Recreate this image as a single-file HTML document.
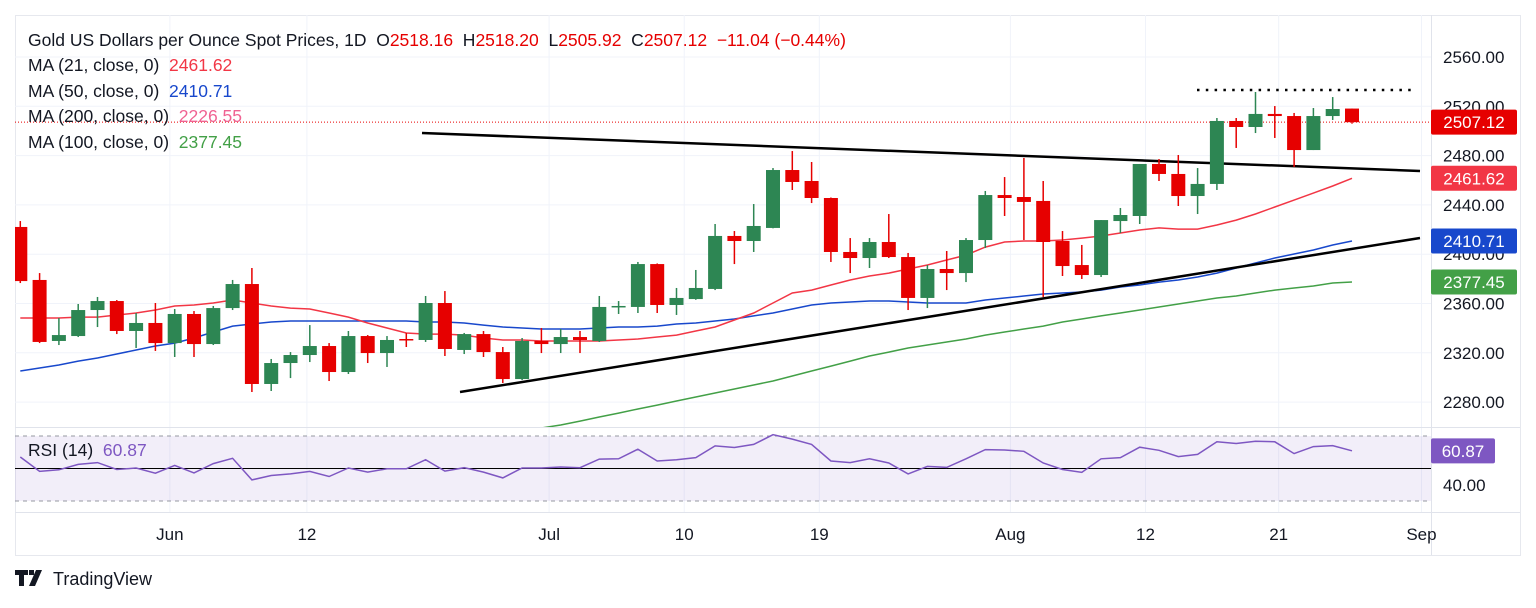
<!DOCTYPE html>
<html><head><meta charset="utf-8">
<style>
html,body{margin:0;padding:0;background:#fff;}
body{width:1536px;height:603px;overflow:hidden;font-family:"Liberation Sans",sans-serif;}
svg text{font-family:"Liberation Sans",sans-serif;}
</style></head>
<body>
<svg id="chart" width="1536" height="603" viewBox="0 0 1536 603" xmlns="http://www.w3.org/2000/svg">
<rect x="0" y="0" width="1536" height="603" fill="#fff"/>
<rect x="15.5" y="15.5" width="1505" height="540" fill="none" stroke="#e6e8ee"/>
<g id="grid"></g>
<rect x="15" y="436" width="1416" height="65" fill="#7e57c2" fill-opacity="0.1"/>
<g id="plot"></g>
<g id="axes"></g>
<g font-size="17.5" fill="#131722">
<text x="28" y="46">Gold US Dollars per Ounce Spot Prices, 1D&#160;&#160;O<tspan fill="#e60000">2518.16</tspan>&#160;&#160;H<tspan fill="#e60000">2518.20</tspan>&#160;&#160;L<tspan fill="#e60000">2505.92</tspan>&#160;&#160;C<tspan fill="#e60000">2507.12</tspan>&#160;&#160;<tspan fill="#e60000">−11.04 (−0.44%)</tspan></text>
<text x="28" y="71">MA (21, close, 0)&#160;&#160;<tspan fill="#f23645">2461.62</tspan></text>
<text x="28" y="97">MA (50, close, 0)&#160;&#160;<tspan fill="#1848cc">2410.71</tspan></text>
<text x="28" y="122">MA (200, close, 0)&#160;&#160;<tspan fill="#f06292">2226.55</tspan></text>
<text x="28" y="148">MA (100, close, 0)&#160;&#160;<tspan fill="#43a047">2377.45</tspan></text>
<text x="28" y="456">RSI (14)&#160;&#160;<tspan fill="#7e57c2">60.87</tspan></text>
</g>
<g>
<path d="M15 570h13v5h-4v11h-5v-11h-4z M29 570h5v5h-5z M36 570h6l-7 16h-6z" fill="#131722"/>
<text x="53" y="585" font-size="18" fill="#131722">TradingView</text>
</g>
</svg>
<script>
const categories = ["May27","May28","May29","May30","May31","Jun3","Jun4","Jun5","Jun6","Jun7","Jun10","Jun11","Jun12","Jun13","Jun14","Jun17","Jun18","Jun19","Jun20","Jun21","Jun24","Jun25","Jun26","Jun27","Jun28","Jul1","Jul2","Jul3","Jul4","Jul5","Jul8","Jul9","Jul10","Jul11","Jul12","Jul15","Jul16","Jul17","Jul18","Jul19","Jul22","Jul23","Jul24","Jul25","Jul26","Jul29","Jul30","Jul31","Aug1","Aug2","Aug5","Aug6","Aug7","Aug8","Aug9","Aug12","Aug13","Aug14","Aug15","Aug16","Aug19","Aug20","Aug21","Aug22","Aug23","Aug26","Aug27","Aug28","Aug29","Aug30"];
const opens = [2422.1,2379.1,2329.6,2333.6,2354.7,2362.0,2337.7,2344.2,2327.9,2351.5,2327.1,2356.3,2375.8,2294.7,2311.7,2318.2,2325.5,2304.4,2333.6,2319.8,2331.2,2330.4,2360.4,2322.3,2335.2,2320.6,2298.7,2329.6,2327.1,2332.8,2329.6,2357.2,2357.2,2392.0,2358.8,2363.6,2371.8,2414.8,2410.7,2421.3,2468.3,2459.4,2445.6,2401.8,2396.9,2409.9,2397.7,2364.5,2388.0,2384.7,2411.5,2448.0,2446.4,2443.2,2410.7,2391.2,2383.1,2426.9,2431.0,2473.2,2465.1,2447.2,2457.0,2508.1,2503.2,2513.8,2512.1,2484.5,2512.1,2518.16];
const highs = [2426.9,2384.7,2348.2,2359.6,2365.3,2362.8,2352.3,2360.4,2355.5,2353.9,2358.0,2379.1,2388.8,2315.0,2320.6,2342.5,2327.9,2337.7,2334.4,2333.6,2336.1,2366.1,2370.1,2336.1,2337.7,2324.7,2332.0,2340.1,2339.3,2337.7,2366.1,2362.0,2393.7,2392.5,2372.6,2387.2,2424.5,2418.8,2440.7,2469.9,2483.7,2474.8,2446.0,2413.1,2413.1,2432.6,2401.0,2391.2,2402.6,2413.1,2451.3,2462.6,2478.1,2459.4,2418.8,2407.5,2427.7,2437.5,2473.2,2477.2,2480.5,2469.9,2510.5,2510.5,2531.6,2520.2,2514.6,2518.6,2527.5,2518.20];
const lows = [2376.6,2327.9,2326.3,2332.8,2340.9,2335.2,2323.9,2321.5,2316.6,2316.6,2326.3,2354.7,2288.2,2289.0,2299.5,2312.5,2297.1,2302.8,2311.7,2308.5,2324.7,2328.8,2317.4,2319.0,2316.6,2295.5,2297.9,2319.8,2319.8,2319.8,2328.8,2351.5,2352.3,2352.3,2350.7,2363.0,2370.9,2392.0,2401.8,2421.0,2452.1,2441.5,2393.7,2384.7,2388.8,2396.9,2354.7,2356.3,2370.9,2377.4,2405.0,2431.0,2411.5,2365.3,2382.3,2379.9,2381.5,2417.2,2424.5,2459.4,2439.1,2432.6,2452.1,2486.2,2498.3,2494.3,2470.8,2484.5,2508.9,2505.92];
const closes = [2378.2,2328.8,2334.4,2354.7,2362.0,2337.7,2344.2,2327.9,2351.5,2327.1,2356.3,2375.8,2294.7,2311.7,2318.2,2325.5,2304.4,2333.6,2319.8,2330.4,2331.0,2360.4,2323.1,2335.2,2320.6,2298.7,2329.6,2327.1,2332.8,2330.4,2357.2,2358.0,2392.0,2358.8,2364.5,2372.6,2414.8,2410.7,2422.9,2468.3,2458.6,2445.6,2401.8,2396.9,2409.9,2397.7,2364.5,2388.0,2384.7,2411.5,2448.0,2445.6,2442.4,2409.9,2390.4,2383.1,2427.7,2431.8,2473.2,2465.1,2447.2,2457.0,2508.1,2503.2,2513.8,2512.1,2484.5,2512.1,2517.8,2507.12];
const ma21 = [2348.2,2348.2,2348.2,2349.0,2349.0,2350.7,2352.3,2354.7,2358.0,2358.8,2360.4,2362.8,2360.4,2358.0,2356.3,2355.5,2352.3,2349.0,2344.2,2340.1,2336.1,2335.2,2335.2,2334.4,2332.0,2330.4,2330.4,2329.6,2329.6,2329.6,2329.6,2330.4,2331.2,2332.8,2334.4,2337.7,2340.9,2346.6,2352.3,2360.4,2368.5,2370.9,2375.0,2379.1,2382.3,2384.7,2388.0,2391.2,2395.3,2399.3,2405.8,2409.9,2410.7,2410.7,2411.5,2413.1,2414.8,2417.2,2419.6,2421.3,2420.4,2420.4,2423.7,2427.7,2432.6,2438.3,2443.9,2449.6,2455.3,2461.62];
const ma50 = [2305.2,2307.7,2310.1,2313.3,2315.8,2319.0,2322.3,2325.5,2327.9,2332.0,2336.9,2341.7,2343.4,2345.0,2345.8,2345.8,2345.8,2345.8,2345.8,2345.8,2345.8,2345.0,2345.0,2344.2,2342.5,2340.9,2340.1,2339.3,2339.3,2339.3,2340.1,2340.9,2340.9,2341.7,2343.4,2344.2,2345.8,2347.4,2349.9,2352.3,2355.5,2358.8,2360.4,2361.2,2362.0,2362.0,2361.2,2360.4,2360.4,2360.4,2362.8,2364.5,2366.1,2367.7,2368.5,2369.3,2370.9,2373.4,2375.0,2377.4,2379.1,2381.5,2384.7,2388.8,2392.9,2396.9,2400.2,2403.4,2407.5,2410.71];
const ma100Start = 24;
const ma100 = [2249.2,2252.5,2255.7,2259.0,2261.4,2264.6,2267.9,2271.1,2274.4,2277.6,2280.9,2284.1,2287.4,2290.6,2293.9,2297.1,2301.2,2305.2,2309.2,2313.3,2317.4,2320.6,2323.9,2326.3,2328.8,2331.2,2334.4,2336.9,2339.3,2341.7,2345.0,2347.4,2349.9,2352.3,2354.7,2357.2,2359.6,2362.0,2364.5,2366.1,2368.5,2370.9,2372.6,2374.2,2376.6,2377.45];
const rsi = [57.1,48.2,49.2,52.5,53.6,49.4,50.3,47.1,51.9,47.3,53.0,56.3,43.0,45.7,46.7,48.2,45.1,50.3,47.8,49.8,49.8,55.4,48.4,50.5,47.8,44.2,50.3,50.3,50.9,50.5,55.8,56.0,61.9,54.6,55.4,56.7,63.9,62.9,64.8,70.8,68.1,64.8,54.6,53.6,56.0,53.4,46.7,51.3,50.7,56.0,61.6,61.4,60.6,53.4,49.4,47.6,56.0,56.7,63.1,61.2,57.3,58.7,66.4,65.4,66.8,66.4,59.2,63.5,64.1,60.87];
const priceTicks = [2560,2520,2480,2440,2400,2360,2320,2280];
const timeTickLabels = ["Jun","12","Jul","10","19","Aug","12","21","Sep"];
const timeTickBars = [7.75,14.85,27.4,34.4,41.4,51.3,58.3,65.2,72.6];
const rsiTicks = [40];

const NS="http://www.w3.org/2000/svg";
const X0=20.3, DX=19.3, PLOT_R=1431, TOP=15, BOT=427;
const xOf = i => X0 + i*DX;
const yOf = p => 57 + (2560-p)*1.2325;
const yR = r => 468.5 - (r-50)*1.625;
function mk(tag, attrs, parent){const e=document.createElementNS(NS,tag);for(const k in attrs)e.setAttribute(k,attrs[k]);parent.appendChild(e);return e;}
const grid=document.getElementById('grid'), plot=document.getElementById('plot'), axes=document.getElementById('axes');

const defs=mk('defs',{},document.getElementById('chart'));
const cp=mk('clipPath',{id:'mainclip'},defs); mk('rect',{x:15,y:TOP,width:PLOT_R-15,height:BOT-TOP},cp);
const cp2=mk('clipPath',{id:'rsiclip'},defs); mk('rect',{x:15,y:428,width:PLOT_R-15,height:84},cp2);

priceTicks.forEach(p=>{const l=mk('line',{x1:15,x2:PLOT_R,y1:yOf(p),y2:yOf(p),stroke:'#f0f3fa'},grid);

});
timeTickBars.forEach(b=>{const l=mk('line',{x1:xOf(b),x2:xOf(b),y1:TOP,y2:512,stroke:'#f0f3fa'},grid);

});
mk('line',{x1:15,x2:1520,y1:427.5,y2:427.5,stroke:'#e0e3eb'},grid);
mk('line',{x1:15,x2:1520,y1:512.5,y2:512.5,stroke:'#e0e3eb'},grid);
mk('line',{x1:PLOT_R+0.5,x2:PLOT_R+0.5,y1:15,y2:555,stroke:'#e0e3eb'},grid);

const main=mk('g',{'clip-path':'url(#mainclip)'},plot);
function line(vals, start, color, name){
  const pts=vals.map((v,i)=>xOf(i+start).toFixed(1)+','+yOf(v).toFixed(1)).join(' ');
  const pl=mk('polyline',{points:pts,fill:'none',stroke:color,'stroke-width':1.5},main);
  
  
}
line(ma100, ma100Start, '#43a047', 'ma100-line');
line(ma50, 0, '#1848cc', 'ma50-line');
line(ma21, 0, '#f23645', 'ma21-line');

const tl1=mk('line',{x1:422,y1:133,x2:1420,y2:171,stroke:'#000','stroke-width':2.5},main);


const tl2=mk('line',{x1:460,y1:392,x2:1420,y2:238,stroke:'#000','stroke-width':2.5},main);


const hl=mk('line',{x1:1197,y1:90,x2:1412,y2:90,stroke:'#000','stroke-width':2.5,'stroke-dasharray':'2.5 6.3'},main);


const last=closes[closes.length-1];
const pl=mk('line',{x1:15,x2:PLOT_R,y1:yOf(last),y2:yOf(last),stroke:'#e60000','stroke-width':1,'stroke-dasharray':'1 2'},main);



categories.forEach((c,i)=>{
  const up=closes[i]>=opens[i];
  const col=up?'#2d8653':'#e60000';
  const g=mk('g',{},main);
  
  
  const x=xOf(i);
  mk('line',{x1:x,x2:x,y1:yOf(highs[i]),y2:yOf(lows[i]),stroke:col,'stroke-width':1.5},g);
  const yt=yOf(Math.max(opens[i],closes[i])), yb=yOf(Math.min(opens[i],closes[i]));
  mk('rect',{x:x-7,y:yt,width:14,height:Math.max(1.5,yb-yt),fill:col},g);
});

const rg=mk('g',{'clip-path':'url(#rsiclip)'},plot);
[70,30].forEach(v=>{const l=mk('line',{x1:15,x2:PLOT_R,y1:yR(v),y2:yR(v),stroke:'#9598a1','stroke-dasharray':'4 4'},rg);

});
const ml=mk('line',{x1:15,x2:PLOT_R,y1:yR(50),y2:yR(50),stroke:'#000','stroke-width':1},rg);


const rp=mk('polyline',{points:rsi.map((v,i)=>xOf(i).toFixed(1)+','+yR(v).toFixed(1)).join(' '),fill:'none',stroke:'#7e57c2','stroke-width':1.5},rg);



priceTicks.forEach(p=>{const t=mk('text',{x:1443,y:yOf(p)+6,'font-size':17,fill:'#131722'},axes);t.textContent=p.toFixed(2);

});
rsiTicks.forEach(r=>{const t=mk('text',{x:1443,y:yR(r)+6,'font-size':17,fill:'#131722'},axes);t.textContent=r.toFixed(2);

});
timeTickLabels.forEach((s,i)=>{const t=mk('text',{x:xOf(timeTickBars[i]),y:540,'font-size':17,fill:'#131722','text-anchor':'middle'},axes);t.textContent=s;

});

function badge(val, y, color, w, name){
  const g=mk('g',{},axes);
  
  
  mk('rect',{x:PLOT_R,y:y-12.5,width:w,height:25,rx:2,fill:color},g);
  const t=mk('text',{x:PLOT_R+w/2,y:y+6,'font-size':17,fill:'#fff','text-anchor':'middle'},g);
  t.textContent=val;
}
badge(closes[closes.length-1].toFixed(2), yOf(closes[closes.length-1]), '#e60000', 86, 'last-price-badge');
badge(ma21[ma21.length-1].toFixed(2), yOf(ma21[ma21.length-1]), '#f23645', 86, 'ma21-badge');
badge(ma50[ma50.length-1].toFixed(2), yOf(ma50[ma50.length-1]), '#1848cc', 86, 'ma50-badge');
badge(ma100[ma100.length-1].toFixed(2), yOf(ma100[ma100.length-1]), '#43a047', 86, 'ma100-badge');
badge(rsi[rsi.length-1].toFixed(2), yR(rsi[rsi.length-1]), '#7e57c2', 64, 'rsi-badge');
</script>
</body></html>
